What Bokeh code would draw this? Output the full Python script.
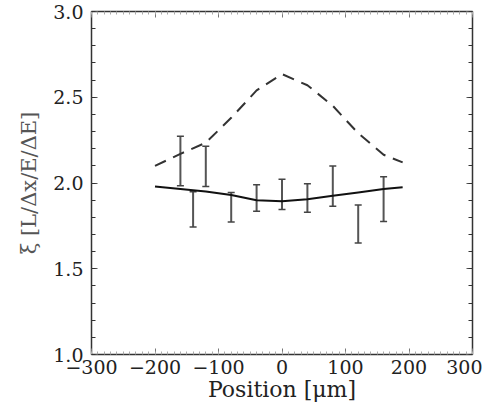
from bokeh.plotting import figure
from bokeh.models import (Range1d, LinearAxis, SingleIntervalTicker, ColumnDataSource, Whisker,
                          TeeHead, NumeralTickFormatter, CustomJSTickFormatter)
from bokeh.embed import file_html
from bokeh.resources import INLINE

# data
curve_x = [-200, -160, -120, -80, -40, 0, 40, 80, 120, 160, 190]
dashed_y = [2.10, 2.17, 2.235, 2.38, 2.54, 2.635, 2.57, 2.45, 2.29, 2.165, 2.12]
solid_y = [1.98, 1.965, 1.95, 1.93, 1.90, 1.893, 1.905, 1.925, 1.945, 1.965, 1.975]

err_x = [-160, -140, -120, -80, -40, 0, 40, 80, 120, 160]
err_upper = [2.272, 1.949, 2.214, 1.945, 1.990, 2.022, 1.995, 2.099, 1.872, 2.036]
err_lower = [1.984, 1.744, 1.980, 1.772, 1.836, 1.846, 1.830, 1.865, 1.650, 1.776]

FONT = "DejaVu Serif"

p = figure(frame_width=381, frame_height=343, output_backend="svg", toolbar_location=None,
           x_range=Range1d(-300, 300), y_range=Range1d(1.0, 3.0),
           min_border_left=91, min_border_right=10, min_border_top=11, min_border_bottom=49)
p.background_fill_color = "white"
p.border_fill_color = "white"
p.grid.visible = False
p.outline_line_color = "#333333"
p.outline_line_width = 1.5

blank = CustomJSTickFormatter(code="return ''")

def style_x(ax, labels=True):
    ax.ticker = SingleIntervalTicker(interval=100, num_minor_ticks=10)
    ax.axis_line_color = None
    ax.major_tick_in = 6
    ax.major_tick_out = 0
    ax.minor_tick_in = 3
    ax.minor_tick_out = 0
    ax.major_tick_line_color = "#777777"
    ax.minor_tick_line_color = "#aaaaaa"
    if labels:
        ax.major_label_text_font = FONT
        ax.major_label_text_font_size = "19px"
        ax.major_label_text_color = "#222222"
        ax.major_label_standoff = 5
    else:
        ax.formatter = blank
        ax.major_label_standoff = 0

def style_y(ax, labels=True):
    ax.ticker = SingleIntervalTicker(interval=0.5, num_minor_ticks=5)
    ax.axis_line_color = None
    ax.major_tick_in = 6
    ax.major_tick_out = 0
    ax.minor_tick_in = 4
    ax.minor_tick_out = 0
    ax.major_tick_line_color = "#555555"
    ax.minor_tick_line_color = "#333333"
    if labels:
        ax.formatter = NumeralTickFormatter(format="0.0")
        ax.major_label_text_font = FONT
        ax.major_label_text_font_size = "19px"
        ax.major_label_text_color = "#222222"
        ax.major_label_standoff = 8
    else:
        ax.formatter = blank
        ax.major_label_standoff = 0

xb = p.xaxis[0]
style_x(xb)
xb.axis_label = "Position [μm]"
xb.axis_label_text_font = FONT
xb.axis_label_text_font_size = "22px"
xb.axis_label_text_font_style = "normal"
xb.axis_label_text_color = "#222222"
xb.axis_label_standoff = 0

yl = p.yaxis[0]
style_y(yl)
yl.axis_label = "ξ [L/Δx/E/ΔE]"
yl.axis_label_text_font = FONT
yl.axis_label_text_font_size = "21px"
yl.axis_label_text_font_style = "normal"
yl.axis_label_text_color = "#555555"
yl.axis_label_standoff = 9

xt = LinearAxis()
style_x(xt, labels=False)
p.add_layout(xt, "above")
yr = LinearAxis()
style_y(yr, labels=False)
p.add_layout(yr, "right")

p.line(curve_x, dashed_y, line_color="#333333", line_width=2, line_dash="12 8")
p.line(curve_x, solid_y, line_color="#111111", line_width=2)

src = ColumnDataSource(dict(x=err_x, upper=err_upper, lower=err_lower))
w = Whisker(source=src, base="x", upper="upper", lower="lower",
            line_color="#555555", line_width=2,
            upper_head=TeeHead(size=7, line_color="#444444", line_width=1.5),
            lower_head=TeeHead(size=7, line_color="#444444", line_width=1.5))
p.add_layout(w)

open("out.html", "w").write(file_html(p, INLINE))
